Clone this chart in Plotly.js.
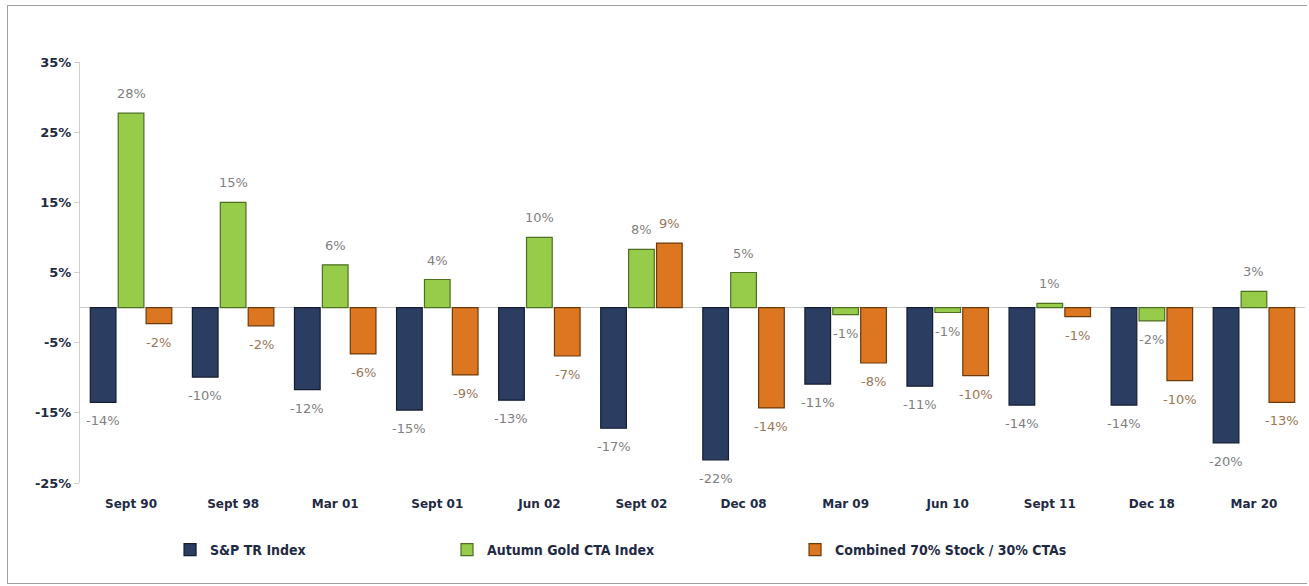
<!DOCTYPE html>
<html>
<head>
<meta charset="utf-8">
<script src="https://cdn.plot.ly/plotly-3.0.1.min.js"></script>
<style>
  html, body { margin: 0; padding: 0; background: #fff; }
  #frame { position: absolute; left: 7px; top: 5px; width: 1300px; height: 579px; border: 1px solid #a0a0a0; border-right: none; box-sizing: border-box; }
  #chart { position: absolute; left: 0; top: 0; width: 1309px; height: 586px; }
</style>
</head>
<body>
<div id="frame"></div>
<div id="chart"></div>
<script>
const categories = ["Sept 90", "Sept 98", "Mar 01", "Sept 01", "Jun 02", "Sept 02", "Dec 08", "Mar 09", "Jun 10", "Sept 11", "Dec 18", "Mar 20"];

const spValues = [-13.5, -9.9, -11.7, -14.6, -13.2, -17.2, -21.7, -10.9, -11.2, -13.9, -13.9, -19.3];
const spLabels = ["-14%", "-10%", "-12%", "-15%", "-13%", "-17%", "-22%", "-11%", "-11%", "-14%", "-14%", "-20%"];

const goldValues = [27.7, 15.0, 6.1, 4.0, 10.0, 8.3, 5.0, -1.0, -0.7, 0.6, -1.9, 2.3];
const goldLabels = ["28%", "15%", "6%", "4%", "10%", "8%", "5%", "-1%", "-1%", "1%", "-2%", "3%"];

const combValues = [-2.3, -2.6, -6.6, -9.6, -6.9, 9.2, -14.3, -7.9, -9.7, -1.3, -10.4, -13.5];
const combLabels = ["-2%", "-2%", "-6%", "-9%", "-7%", "9%", "-14%", "-8%", "-10%", "-1%", "-10%", "-13%"];

const yTicks = [-25, -15, -5, 5, 15, 25, 35];
const yTickText = ["-25%", "-15%", "-5%", "5%", "15%", "25%", "35%"];

const W = 1309, H = 586;
const margin = { l: 80, r: 4, t: 62, b: 103 };
const bargap = 0.18, bargroupgap = 0.08;

const labelFamily = "DejaVu Sans, Verdana, sans-serif";
const series = [
  { name: "S&P TR Index", values: spValues, labels: spLabels, color: "#2c3d62", edge: "#151d30", txt: "#808080", legend: "legend" },
  { name: "Autumn Gold CTA Index", values: goldValues, labels: goldLabels, color: "#96cc4a", edge: "#4e6e22", txt: "#808080", legend: "legend2" },
  { name: "Combined 70% Stock / 30% CTAs", values: combValues, labels: combLabels, color: "#dc7620", edge: "#6b3a0c", txt: "#9a7656", legend: "legend3" }
];

const traces = series.map(s => ({
  type: "bar", name: s.name, x: categories, y: s.values,
  hoverinfo: "skip", textposition: "none",
  marker: { color: s.color, line: { color: s.edge, width: 1.2 } },
  legend: s.legend
}));

// data labels positioned via the category axis + the grouped-bar slot offset
const catWidth = (W - margin.l - margin.r) / categories.length;
const slot = catWidth * (1 - bargap) / series.length;
const annotations = [];
series.forEach((s, si) => {
  const shift = (si - (series.length - 1) / 2) * slot;
  s.values.forEach((v, i) => {
    annotations.push({
      x: categories[i], y: v, xref: "x", yref: "y", text: s.labels[i], showarrow: false,
      xshift: shift, yshift: v >= 0 ? 10 : -9,
      yanchor: v >= 0 ? "bottom" : "top",
      font: { family: labelFamily, size: 13, color: s.txt }
    });
  });
});

const legendFont = { family: "DejaVu Sans Condensed, Tahoma, sans-serif", size: 14, color: "#1f2a44", weight: "bold" };
function leg(x) {
  return { x: x, y: -0.159, xanchor: "left", yanchor: "middle", orientation: "h",
           font: legendFont, bgcolor: "rgba(0,0,0,0)", itemclick: false };
}

const layout = {
  width: W, height: H, margin: margin,
  paper_bgcolor: "rgba(0,0,0,0)", plot_bgcolor: "rgba(0,0,0,0)",
  barmode: "group", bargap: bargap, bargroupgap: bargroupgap,
  showlegend: true,
  legend: leg(0.0735), legend2: leg(0.2996), legend3: leg(0.5837),
  annotations: annotations,
  xaxis: {
    type: "category", showgrid: false, showline: false, zeroline: false,
    ticks: "", tickfont: { family: "DejaVu Sans, Verdana, sans-serif", size: 12, color: "#1f2a44", weight: "bold" },
    ticklabelstandoff: 12
  },
  yaxis: {
    range: [-25, 35], tickvals: yTicks, ticktext: yTickText,
    showgrid: false, showline: true, linecolor: "#cfcfcf", linewidth: 1,
    ticks: "outside", ticklen: 5, tickcolor: "#cfcfcf",
    zeroline: true, zerolinecolor: "#c8c8c8", zerolinewidth: 1,
    tickfont: { family: "DejaVu Sans, Verdana, sans-serif", size: 13, color: "#1f2a44", weight: "bold" }
  },
  font: { family: "DejaVu Sans, sans-serif" }
};

Plotly.newPlot("chart", traces, layout, { displayModeBar: false, staticPlot: true });
</script>
</body>
</html>
